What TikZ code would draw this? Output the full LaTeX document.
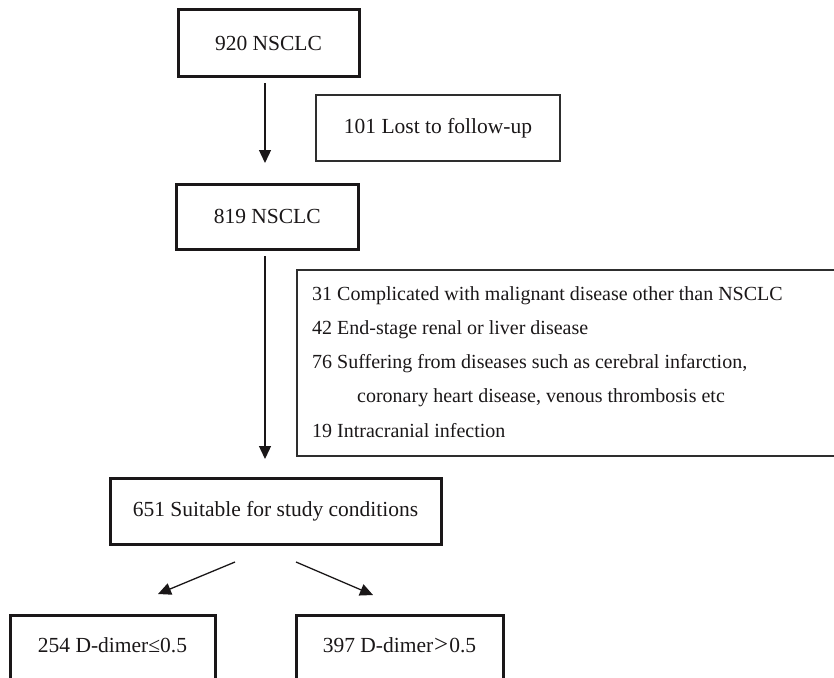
\documentclass[tikz,border=0pt]{standalone}
\usepackage{fontspec}
\setmainfont{Liberation Serif}
\usetikzlibrary{arrows.meta}
\definecolor{ink}{HTML}{1A1718}
\definecolor{thinink}{HTML}{2E2E2E}
\tikzset{
  thickbox/.style={draw=ink, line width=3pt, rectangle, inner sep=0pt, text=ink,
    font=\fontsize{21.5}{24}\selectfont},
  thinbox/.style={draw=thinink, line width=1.6pt, rectangle, inner sep=0pt, text=ink,
    font=\fontsize{21.5}{24}\selectfont},
  boxtext/.style={inner sep=0pt, text=ink, font=\fontsize{21.5}{24}\selectfont},
  listtxt/.style={anchor=base west, inner sep=0pt, text=ink, font=\fontsize{20}{24}\selectfont},
  arr/.style={draw=ink, line width=1.3pt, -{Triangle[length=13pt,width=12pt]}}
}
\begin{document}
\begin{tikzpicture}[x=1pt,y=-1pt]
\useasboundingbox (0,0) rectangle (834,677);
\clip (0,0) rectangle (834,677);
% main boxes
\node[thickbox, minimum width=181pt, minimum height=66pt] (n920) at (268.5,43) {920 NSCLC};
\node[thinbox, minimum width=244pt, minimum height=66pt] (n101) at (438,128) {101 Lost to follow-up\hspace{12pt}};
\node[thickbox, minimum width=181.5pt, minimum height=65pt] (n819) at (267.25,216.5) {819 NSCLC};
% exclusion box
\node[thinbox, minimum width=600pt, minimum height=186pt, anchor=north west] (excl) at (296,269) {};
\node[listtxt] (l1) at (312,300) {31 Complicated with malignant disease other than NSCLC};
\node[listtxt] (l2) at (312,334.5) {42 End-stage renal or liver disease};
\node[listtxt] (l3) at (312,368.5) {76 Suffering from diseases such as cerebral infarction,};
\node[listtxt] (l4) at (357,402.5) {coronary heart disease, venous thrombosis etc};
\node[listtxt] (l5) at (312,437) {19 Intracranial infection};
% suitable
\node[thickbox, minimum width=331pt, minimum height=66pt] (n651) at (275.5,511) {651 Suitable for study conditions};
% bottom boxes
\node[thickbox, minimum width=205pt, minimum height=100pt, anchor=north] (b254) at (112.5,614) {};
\node[boxtext] (t254) at (112.5,645) {254 D-dimer≤0.5};
\node[thickbox, minimum width=207pt, minimum height=100pt, anchor=north] (b397) at (399.5,614) {};
\node[boxtext] (t397) at (399.5,645) {397 D-dimer\hspace{1pt}{\fontsize{25}{24}\selectfont >}\hspace{1pt}0.5};
% arrows
\coordinate (a1s) at (265,83);  \coordinate (a1e) at (265,163);
\coordinate (a2s) at (265,256); \coordinate (a2e) at (265,459);
\coordinate (a3s) at (235,562); \coordinate (a3e) at (158,594);
\coordinate (a4s) at (296,562); \coordinate (a4e) at (373,595);
\draw[arr] (a1s) -- (a1e);
\draw[arr] (a2s) -- (a2e);
\draw[arr] (a3s) -- (a3e);
\draw[arr] (a4s) -- (a4e);
\end{tikzpicture}
\end{document}
